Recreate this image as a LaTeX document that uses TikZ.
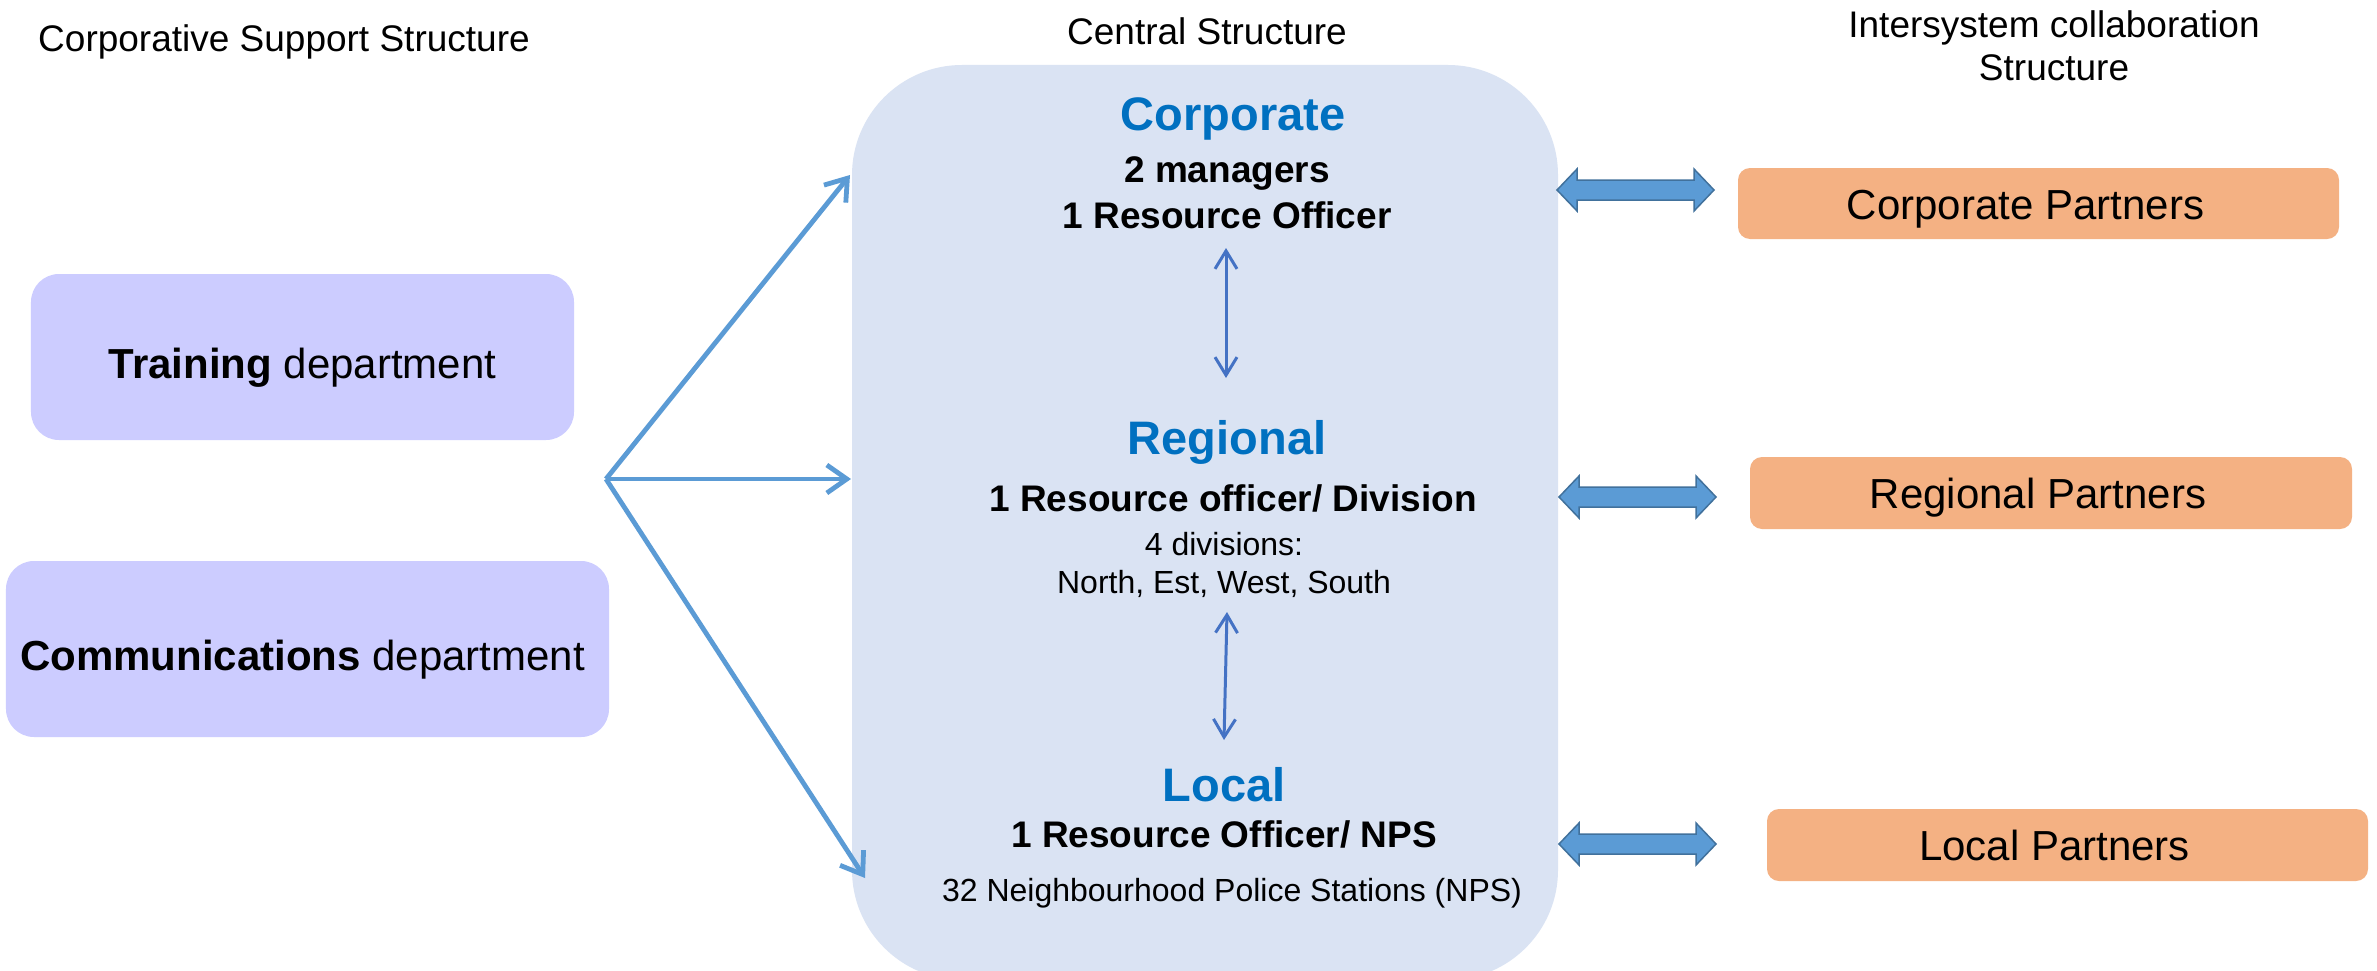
\documentclass[tikz,border=0pt]{standalone}
\usepackage{fontspec}
\setmainfont{Liberation Sans}
\usetikzlibrary{arrows.meta}
\definecolor{deptfill}{HTML}{CCCCFF}
\definecolor{centfill}{HTML}{DAE3F3}
\definecolor{partfill}{HTML}{F4B183}
\definecolor{fanblue}{HTML}{5B9BD5}
\definecolor{vblue}{HTML}{4472C4}
\definecolor{headblue}{HTML}{0070C0}
\definecolor{blockline}{HTML}{41719C}
\newcommand\fsz[1]{\fontsize{#1bp}{#1bp}\selectfont}
\newcommand\partarrow[3]{%
  \filldraw[blk] (#1,#3) -- (#1+20,#3-21) -- (#1+20,#3-10) -- (#2-20,#3-10) -- (#2-20,#3-21)
    -- (#2,#3) -- (#2-20,#3+21) -- (#2-20,#3+10) -- (#1+20,#3+10) -- (#1+20,#3+21) -- cycle;}
\begin{document}
\begin{tikzpicture}[x=1bp,y=-1bp,
  txt/.style={anchor=base, inner sep=0pt, text=black},
  hdr/.style={txt, font=\fsz{37}},
  lvl/.style={txt, font=\fsz{47}\bfseries, text=headblue},
  boldline/.style={txt, font=\fsz{37}\bfseries},
  smallline/.style={txt, font=\fsz{32}},
  dept/.style={fill=deptfill, rounded corners=28bp, inner sep=0pt, font=\fsz{42},
    text height=42bp, text depth=0bp},
  part/.style={fill=partfill, rounded corners=12bp, inner sep=0pt, font=\fsz{42},
    text height=31bp, text depth=0bp},
  cbox/.style={fill=centfill, rounded corners=110bp, inner sep=0pt},
  fan/.style={draw=fanblue, line width=4.8bp, line join=miter,
    -{Straight Barb[length=20bp,width=28bp]}},
  vlink/.style={draw=vblue, line width=3bp,
    {Straight Barb[length=18bp,width=22bp]}-{Straight Barb[length=18bp,width=22bp]}},
  blk/.style={fill=fanblue, draw=blockline, line width=1.5bp, line join=miter},
]
\useasboundingbox (0,0) rectangle (2377,970);
\fill[white] (0,0) rectangle (2377,970);

% central structure box
\node[cbox, minimum width=706bp, minimum height=915bp] (central) at (1205,522.5) {};

% headers
\node[hdr] (hleft) at (284,51) {Corporative Support Structure};
\node[hdr] (hcent) at (1207,44) {Central Structure};
\node[hdr] (hright1) at (2054,37) {Intersystem collaboration};
\node[hdr] (hright2) at (2054,80) {Structure};

% departments
\node[dept, minimum width=543bp, minimum height=166bp] (train) at (302.5,357)
  {\textbf{Training} department};
\node[dept, minimum width=603bp, minimum height=176bp] (comm) at (307.5,649)
  {\hspace*{-10bp}\textbf{Communications} department};

% fan arrows
\coordinate (fanorigin) at (606,479);
\coordinate (fantop) at (850,175);
\coordinate (fanmid) at (851,479);
\coordinate (fanbot) at (865,878);
\draw[fan] (fanorigin) -- (fantop);
\draw[fan] (fanorigin) -- (fanmid);
\draw[fan] (fanorigin) -- (fanbot);

% central texts
\node[lvl] (corp) at (1233,130) {Corporate};
\node[boldline] (corp1) at (1227,182) {2 managers};
\node[boldline] (corp2) at (1227,228) {1 Resource Officer};
\node[lvl] (regi) at (1227,454) {Regional};
\node[boldline] (regi1) at (1233,511) {1 Resource officer/ Division};
\node[smallline] (regi2) at (1224,555) {4 divisions:};
\node[smallline] (regi3) at (1224,593) {North, Est, West, South};
\node[lvl] (loc) at (1224,801) {Local};
\node[boldline] (loc1) at (1224,847) {1 Resource Officer/ NPS};
\node[smallline] (loc2) at (1232,901) {32 Neighbourhood Police Stations (NPS)};

% vertical links
\coordinate (v1a) at (1226,248);
\coordinate (v1b) at (1226,378);
\coordinate (v2a) at (1227,612);
\coordinate (v2b) at (1224,740);
\draw[vlink] (v1a) -- (v1b);
\draw[vlink] (v2a) -- (v2b);

% partner block arrows
\partarrow{1557}{1714}{190}
\partarrow{1559}{1716}{497}
\partarrow{1559}{1716}{844}

% partner boxes
\node[part, minimum width=601bp, minimum height=71bp] (pcorp) at (2038.5,203.5)
  {\hspace*{-26bp}Corporate Partners};
\node[part, minimum width=602bp, minimum height=72bp] (preg) at (2051,493)
  {\hspace*{-26bp}Regional Partners};
\node[part, minimum width=601bp, minimum height=72bp] (ploc) at (2067.5,845)
  {\hspace*{-26bp}Local Partners};
\end{tikzpicture}
\end{document}
